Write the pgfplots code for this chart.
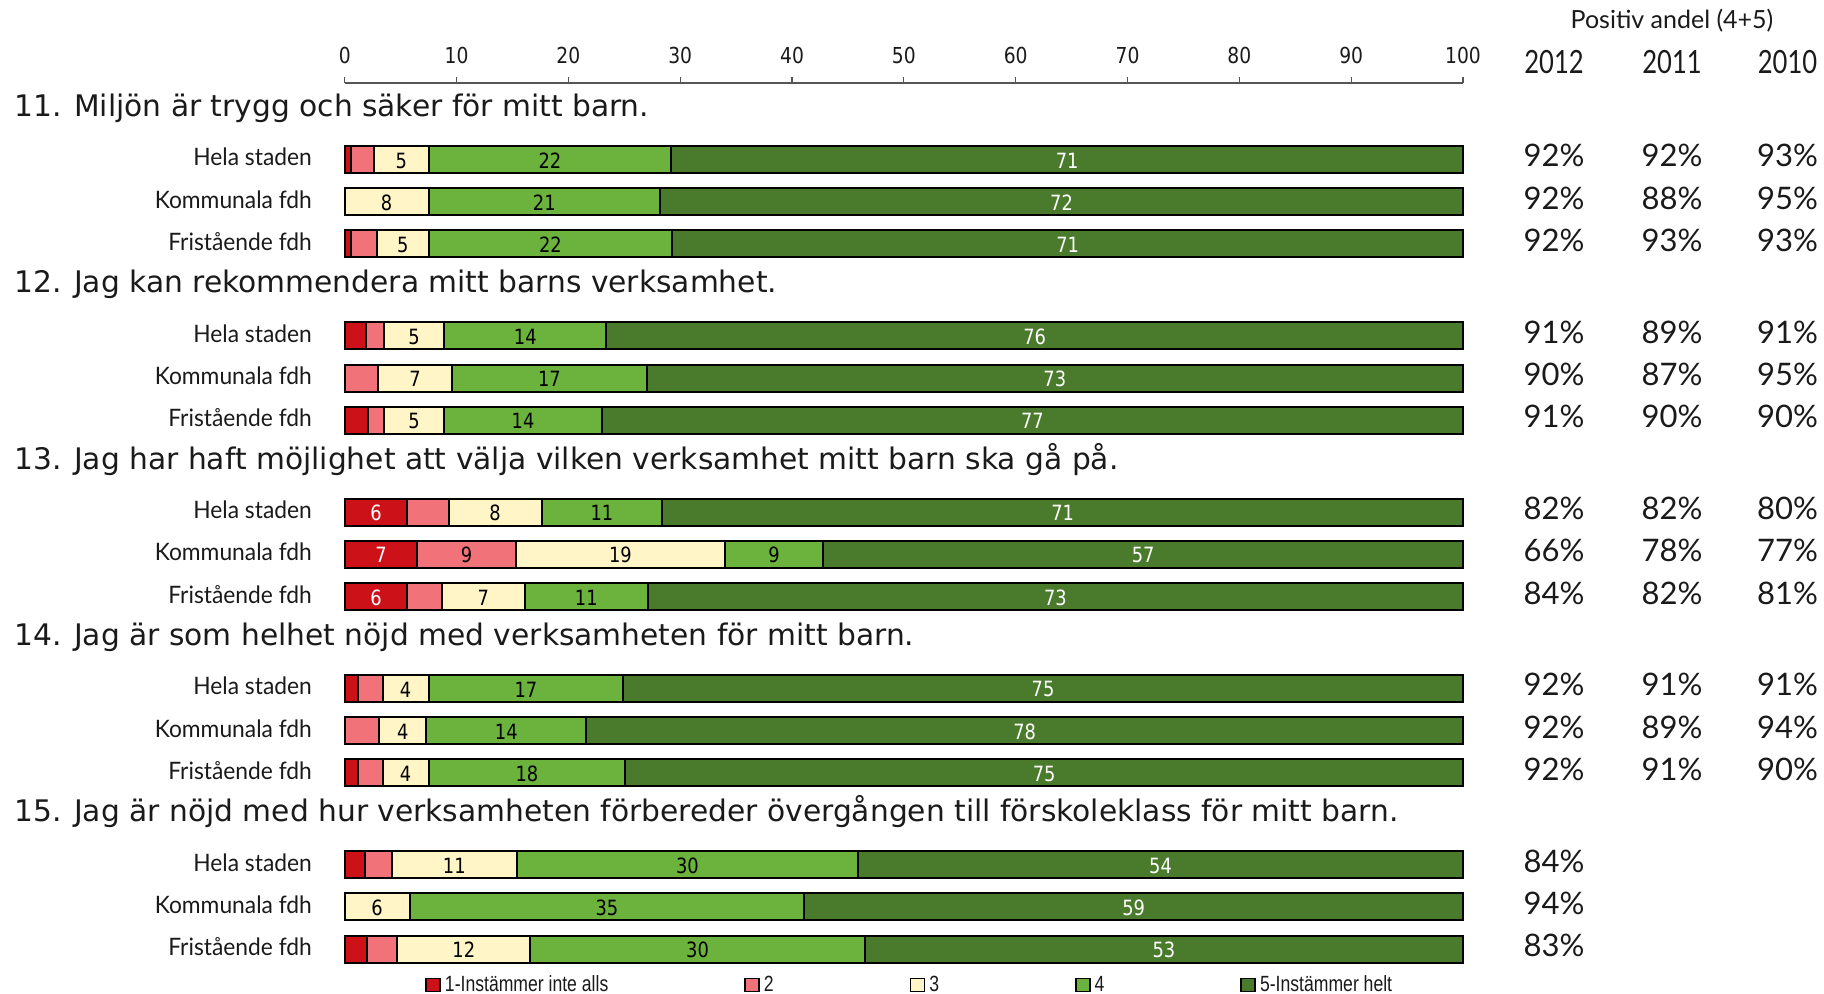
\documentclass[border=0pt]{standalone}
\usepackage{fontspec}
\setmainfont{DejaVu Sans}
\newfontfamily\qfont{DejaVu Sans}
\newfontfamily\numfont[FakeStretch=0.85]{DejaVu Sans}
\newfontfamily\gfont[FakeStretch=0.95]{Lato}
\newfontfamily\pfont{Lato}
\newfontfamily\yfont[FakeStretch=0.8]{Lato}
\newfontfamily\narrowfont[FakeStretch=0.8]{Liberation Sans}
\usepackage{pgfplots}
\usepackage{pgfplotstable}
\pgfplotsset{compat=1.18}

\definecolor{c1}{HTML}{CC1119}
\definecolor{c2}{HTML}{F2727A}
\definecolor{c3}{HTML}{FFF5C6}
\definecolor{c4}{HTML}{6BB33D}
\definecolor{c5}{HTML}{4A7A2B}
\definecolor{axgray}{HTML}{555555}
\definecolor{txt}{HTML}{1A1A1A}

% one table per answer level; y = row centre (px from top, negated)
\pgfplotstableread{
v y
0.6 -159.5
0 -201.7
0.6 -243.9
1.9 -335.8
0 -378.0
2.1 -420.2
5.6 -512.1
6.5 -554.3
5.6 -596.5
1.2 -688.4
0 -730.6
1.2 -772.8
1.8 -864.7
0 -906.9
2.0 -949.1
}\levelA
\pgfplotstableread{
v y
2.0 -159.5
0 -201.7
2.3 -243.9
1.6 -335.8
3.0 -378.0
1.4 -420.2
3.7 -512.1
8.8 -554.3
3.1 -596.5
2.2 -688.4
3.1 -730.6
2.2 -772.8
2.4 -864.7
0 -906.9
2.7 -949.1
}\levelB
\pgfplotstableread{
v y
4.9 -159.5
7.5 -201.7
4.6 -243.9
5.4 -335.8
6.6 -378.0
5.4 -420.2
8.3 -512.1
18.7 -554.3
7.4 -596.5
4.1 -688.4
4.2 -730.6
4.1 -772.8
11.2 -864.7
5.8 -906.9
11.9 -949.1
}\levelC
\pgfplotstableread{
v y
21.7 -159.5
20.7 -201.7
21.8 -243.9
14.5 -335.8
17.4 -378.0
14.1 -420.2
10.8 -512.1
8.8 -554.3
11.0 -596.5
17.4 -688.4
14.3 -730.6
17.6 -772.8
30.5 -864.7
35.3 -906.9
29.9 -949.1
}\levelD
\pgfplotstableread{
v y
70.8 -159.5
71.8 -201.7
70.7 -243.9
76.6 -335.8
73.0 -378.0
77.0 -420.2
71.6 -512.1
57.2 -554.3
72.9 -596.5
75.1 -688.4
78.4 -730.6
74.9 -772.8
54.1 -864.7
58.9 -906.9
53.5 -949.1
}\levelE

% segment labels: c = middle of the segment
\pgfplotstableread{
c y l
2.8 -512.1 6
3.25 -554.3 7
2.8 -596.5 6
64.6 -159.5 71
64.1 -201.7 72
64.65 -243.9 71
61.7 -335.8 76
63.5 -378.0 73
61.5 -420.2 77
64.2 -512.1 71
71.4 -554.3 57
63.55 -596.5 73
62.45 -688.4 75
60.8 -730.6 78
62.55 -772.8 75
72.95 -864.7 54
70.55 -906.9 59
73.25 -949.1 53
}\whitelabels
\pgfplotstableread{
c y l
10.9 -554.3 9
5.05 -159.5 5
3.75 -201.7 8
5.2 -243.9 5
6.2 -335.8 5
6.3 -378.0 7
6.2 -420.2 5
13.45 -512.1 8
24.65 -554.3 19
12.4 -596.5 7
5.45 -688.4 4
5.2 -730.6 4
5.45 -772.8 4
9.8 -864.7 11
2.9 -906.9 6
10.65 -949.1 12
18.35 -159.5 22
17.85 -201.7 21
18.4 -243.9 22
16.15 -335.8 14
18.3 -378.0 17
15.95 -420.2 14
23.0 -512.1 11
38.4 -554.3 9
21.6 -596.5 11
16.2 -688.4 17
14.45 -730.6 14
16.3 -772.8 18
30.65 -864.7 30
23.45 -906.9 35
31.55 -949.1 30
}\blacklabels

\tikzset{
  qtext/.style={anchor=base west, inner sep=0pt, text=txt, font=\qfont\fontsize{14.85}{17}\selectfont},
  ctext/.style={anchor=base east, inner sep=0pt, text=txt, font=\gfont\fontsize{12}{14}\selectfont},
  ptext/.style={anchor=base, inner sep=0pt, text=txt, font=\pfont\fontsize{15.5}{17}\selectfont},
}
\pgfplotsset{
  frame/.style={
    at={(172.35pt,-497pt)}, anchor=south west,
    scale only axis, width=559.15pt, height=455.5pt,
    xmin=0, xmax=100, ymin=-994, ymax=-83, clip=false},
}
\newcommand\pctrow[4]{%
  \node[ptext] at (axis cs:108.14,#1) {#2\%};
  \node[ptext] at (axis cs:118.69,#1) {#3\%};
  \node[ptext] at (axis cs:129.02,#1) {#4\%};}
\newcommand\cats[3]{%
  \node[ctext] at (axis cs:-2.9,#1) {Hela staden};
  \node[ctext] at (axis cs:-2.9,#2) {Kommunala fdh};
  \node[ctext] at (axis cs:-2.9,#3) {Fristående fdh};}

\begin{document}
\begin{tikzpicture}
\begin{axis}[
  frame,
  xbar stacked, bar width=13.5pt,
  axis x line*=top, axis y line=none,
  axis line style={axgray, line width=0.6pt, -},
  xtick={0,10,...,100}, ytick=\empty,
  tick align=outside, major tick length=3pt,
  tick style={axgray, line width=0.6pt},
  xticklabel style={text=txt, yshift=3pt, font=\numfont\fontsize{11}{13}\selectfont},
  /pgf/number format/assume math mode=true,
  legend columns=5,
  legend style={at={(0.0718,0.0099)}, anchor=west, draw=none, fill=none, inner sep=0pt,
    font=\narrowfont\fontsize{11}{12}\selectfont, text=txt,
    /tikz/every even column/.append style={column sep=66pt}},
  legend image code/.code={\draw[#1, draw=black, line width=0.8pt] (0pt,-3.3pt) rectangle (7pt,3.3pt);},
]
\addplot[fill=c1, draw=black, line width=1pt] table[x=v, y=y] {\levelA};
\addlegendentry{1-Instämmer inte alls}
\addplot[fill=c2, draw=black, line width=1pt] table[x=v, y=y] {\levelB};
\addlegendentry{2}
\addplot[fill=c3, draw=black, line width=1pt] table[x=v, y=y] {\levelC};
\addlegendentry{3}
\addplot[fill=c4, draw=black, line width=1pt] table[x=v, y=y] {\levelD};
\addlegendentry{4}
\addplot[fill=c5, draw=black, line width=1pt] table[x=v, y=y] {\levelE};
\addlegendentry{5-Instämmer helt}

% questions
\node[qtext] at (axis cs:-29.57,-116.7) {11. Miljön är trygg och säker för mitt barn.};
\node[qtext] at (axis cs:-29.57,-293.0) {12. Jag kan rekommendera mitt barns verksamhet.};
\node[qtext] at (axis cs:-29.57,-469.3) {13. Jag har haft möjlighet att välja vilken verksamhet mitt barn ska gå på.};
\node[qtext] at (axis cs:-29.57,-645.6) {14. Jag är som helhet nöjd med verksamheten för mitt barn.};
\node[qtext] at (axis cs:-29.57,-821.9) {15. Jag är nöjd med hur verksamheten förbereder övergången till förskoleklass för mitt barn.};

% row names
\cats{-166.0}{-208.2}{-250.4}
\cats{-342.3}{-384.5}{-426.7}
\cats{-518.6}{-560.8}{-603.0}
\cats{-694.9}{-737.1}{-779.3}
\cats{-871.2}{-913.4}{-955.6}

% positive share (4+5)
\node[anchor=base, inner sep=0pt, text=txt, font=\pfont\fontsize{12.5}{14}\selectfont] at (axis cs:118.69,-29) {Positiv andel (4+5)};
\node[anchor=base, inner sep=0pt, text=txt, font=\yfont\fontsize{16}{18}\selectfont] at (axis cs:108.14,-74) {2012};
\node[anchor=base, inner sep=0pt, text=txt, font=\yfont\fontsize{16}{18}\selectfont] at (axis cs:118.69,-74) {2011};
\node[anchor=base, inner sep=0pt, text=txt, font=\yfont\fontsize{16}{18}\selectfont] at (axis cs:129.02,-74) {2010};
\pctrow{-167.0}{92}{92}{93}
\pctrow{-209.2}{92}{88}{95}
\pctrow{-251.4}{92}{93}{93}
\pctrow{-343.3}{91}{89}{91}
\pctrow{-385.5}{90}{87}{95}
\pctrow{-427.7}{91}{90}{90}
\pctrow{-519.6}{82}{82}{80}
\pctrow{-561.8}{66}{78}{77}
\pctrow{-604.0}{84}{82}{81}
\pctrow{-695.9}{92}{91}{91}
\pctrow{-738.1}{92}{89}{94}
\pctrow{-780.3}{92}{91}{90}
\node[ptext] at (axis cs:108.14,-872.2) {84\%};
\node[ptext] at (axis cs:108.14,-914.4) {94\%};
\node[ptext] at (axis cs:108.14,-956.6) {83\%};
\end{axis}

% segment labels, same frame
\begin{axis}[frame, hide axis,
  point meta=explicit symbolic, nodes near coords,
  every node near coord/.append style={anchor=center, inner sep=0pt, yshift=-0.5pt,
    font=\numfont\fontsize{10.5}{12}\selectfont}]
\addplot[only marks, mark=*, mark size=0pt, mark options={draw=none, fill=none},
  every node near coord/.append style={text=white}] table[x=c, y=y, meta=l] {\whitelabels};
\addplot[only marks, mark=*, mark size=0pt, mark options={draw=none, fill=none},
  every node near coord/.append style={text=black}] table[x=c, y=y, meta=l] {\blacklabels};
\end{axis}
\pgfresetboundingbox
\path[use as bounding box] (0,0) rectangle (912pt,-497pt);
\end{tikzpicture}
\end{document}
